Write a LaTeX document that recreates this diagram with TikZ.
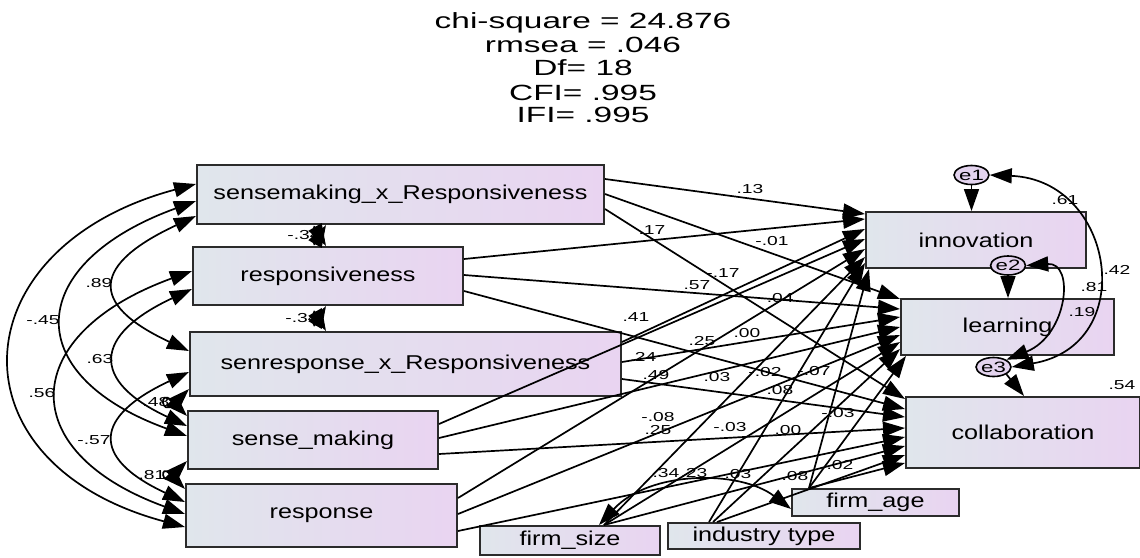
\documentclass[tikz,border=0pt]{standalone}
\usepackage{fontspec}
\setmainfont{Liberation Sans}
\newfontfamily\boxfont{Liberation Sans}[FakeStretch=1.26]
\newfontfamily\numfont{Liberation Sans}[FakeStretch=1.48]
\newfontfamily\headfont{Liberation Sans}[FakeStretch=1.52]
\usetikzlibrary{arrows.meta,calc,shapes.geometric}

\definecolor{boxleft}{HTML}{E0E6EC}
\definecolor{boxright}{HTML}{E9D4F1}
\definecolor{edgegray}{HTML}{2B2B2B}
\definecolor{errfill}{HTML}{E3D3EE}

\tikzset{
  var/.style={draw=edgegray, line width=2pt, left color=boxleft, right color=boxright,
    inner sep=0pt, font=\boxfont\fontsize{20}{24}\selectfont, text=black},
  err/.style={ellipse, draw=black, line width=1.6pt, fill=errfill,
    minimum width=30pt, minimum height=19pt, inner sep=0pt,
    font=\numfont\fontsize{15}{15}\selectfont},
  tip/.tip={Triangle[length=22pt,width=15pt]},
  reg/.style={line width=1.7pt, -tip},
  cov/.style={line width=1.7pt, tip-tip},
  coef/.style={font=\numfont\fontsize{13}{13}\selectfont, inner sep=0pt, text=black},
  head/.style={font=\headfont\fontsize{22}{22}\selectfont, inner sep=0pt, anchor=base, text=black}
}

\begin{document}
\begin{tikzpicture}[x=1pt,y=-1pt]
\useasboundingbox (0,0) rectangle (1140,557);

% fit statistics
\node[head] (fit1) at (583,28) {chi-square = 24.876};
\node[head] (fit2) at (583,52) {rmsea = .046};
\node[head] (fit3) at (583,75) {Df= 18};
\node[head] (fit4) at (583,100) {CFI= .995};
\node[head] (fit5) at (583,122) {IFI= .995};

% exogenous variables
\node[var, minimum width=407pt, minimum height=59pt] (sxr) at (400.5,194.5) {sensemaking\_x\_Responsiveness};
\node[var, minimum width=270pt, minimum height=58pt] (rsp) at (328,276) {responsiveness};
\node[var, minimum width=431pt, minimum height=64pt] (srx) at (405.5,364) {senresponse\_x\_Responsiveness};
\node[var, minimum width=250pt, minimum height=58pt] (smk) at (313,440) {sense\_making};
\node[var, minimum width=271pt, minimum height=63pt] (rsn) at (321.5,515.5) {response};

% control variables
\node[var, minimum width=180pt, minimum height=29pt] (fsz) at (570,540.5) {firm\_size};
\node[var, minimum width=192pt, minimum height=26pt] (ind) at (764,536) {industry type};
\node[var, minimum width=167pt, minimum height=27pt] (fag) at (875.5,502.5) {firm\_age};

% outcomes
\node[var, minimum width=220pt, minimum height=56pt] (inn) at (976,240) {innovation};
\node[var, minimum width=213pt, minimum height=56pt] (lrn) at (1007.5,327) {learning};
\node[var, minimum width=234pt, minimum height=71pt] (col) at (1023,432.5) {collaboration};

% residuals
\node[err] (e1) at (971.5,175) {e1};
\node[err] (e2) at (1008,265.5) {e2};
\node[err] (e3) at (993.5,367) {e3};

% regression paths
\draw[reg] ([yshift=-15pt]sxr.north east) -- ([yshift=-3pt]inn.north west);
\draw[reg] ([yshift=-30pt]sxr.north east) -- ([yshift=-1pt]lrn.north west);
\draw[reg] ([yshift=-45pt]sxr.north east) -- ([yshift=-3pt]col.north west);

\draw[reg] ([yshift=-13pt]rsp.north east) -- ([yshift=-8pt]inn.north west);
\draw[reg] ([yshift=-29pt]rsp.north east) -- ([yshift=-11pt]lrn.north west);
\draw[reg] ([yshift=-45pt]rsp.north east) -- ([yshift=-13pt]col.north west);

\draw[reg] ([yshift=-11pt]srx.north east) -- ([yshift=-18pt]inn.north west);
\draw[reg] ([yshift=-31pt]srx.north east) -- ([yshift=-19pt]lrn.north west);
\draw[reg] ([yshift=-48pt]srx.north east) -- ([yshift=-21pt]col.north west);

\draw[reg] ([yshift=-14pt]smk.north east) -- ([yshift=-28pt]inn.north west);
\draw[reg] ([yshift=-28pt]smk.north east) -- ([yshift=-29pt]lrn.north west);
\draw[reg] ([yshift=-44pt]smk.north east) -- ([yshift=-32pt]col.north west);

\draw[reg] ([yshift=-15pt]rsn.north east) -- ([yshift=-38pt]inn.north west);
\draw[reg] ([yshift=-31pt]rsn.north east) -- ([yshift=-37pt]lrn.north west);
\draw[reg] ([yshift=-48pt]rsn.north east) -- ([yshift=-41pt]col.north west);

\draw[reg] ([xshift=125pt]fsz.north west) -- ([yshift=-46pt]inn.north west);
\draw[reg] ([xshift=125pt]fsz.north west) -- ([yshift=-44pt]lrn.north west);
\draw[reg] ([xshift=125pt]fsz.north west) -- ([yshift=-50pt]col.north west);

\draw[reg] ([xshift=42pt]ind.north west) -- ([yshift=-52pt]inn.north west);
\draw[reg] ([xshift=46pt]ind.north west) -- ([yshift=-51pt]lrn.north west);
\draw[reg] ([xshift=50pt]ind.north west) -- ([yshift=-59pt]col.north west);

\draw[reg] ([xshift=18pt]fag.north west) -- ([xshift=4pt]inn.south west);
\draw[reg] ([xshift=18pt]fag.north west) -- ([xshift=6pt]lrn.south west);
\draw[reg] ([xshift=18pt]fag.north west) -- ([yshift=-67pt]col.north west);

% residual paths
\draw[reg] (e1.south) -- (e1.south |- inn.north);
\draw[reg] (e2.south) -- (e2.south |- lrn.north);
\draw[reg] (e3.south east) -- ([xshift=119pt]col.north west);

% covariances among exogenous variables
\draw[cov] ([yshift=-20pt]sxr.north west) .. controls +(195:246pt) and +(165:246pt) .. ([yshift=-44pt]rsn.north west);
\draw[cov] ([yshift=-37pt]sxr.north west) .. controls +(200:181pt) and +(160:181pt) .. ([yshift=-26pt]smk.north west);
\draw[cov] ([yshift=-25pt]rsp.north west) .. controls +(200:184pt) and +(160:184pt) .. ([yshift=-31pt]rsn.north west);
\draw[cov] ([yshift=-52pt]sxr.north west) .. controls +(205:113pt) and +(155:113pt) .. ([yshift=-20pt]srx.north west);
\draw[cov] ([yshift=-43pt]rsp.north west) .. controls +(205:108pt) and +(155:108pt) .. ([yshift=-16pt]smk.north west);
\draw[cov] ([yshift=-41pt]srx.north west) .. controls +(205:105pt) and +(155:105pt) .. ([yshift=-19pt]rsn.north west);
\draw[cov] ([yshift=-58pt]srx.north west) .. controls +(225:40pt) and +(135:40pt) .. ([yshift=-6pt]smk.north west);
\draw[cov] ([yshift=-51pt]smk.north west) .. controls +(225:36pt) and +(135:36pt) .. ([yshift=-6pt]rsn.north west);
\draw[cov] ([xshift=130pt]sxr.south west) .. controls +(240:27pt) and +(120:27pt) .. ([xshift=134pt]rsp.north west);
\draw[cov] ([xshift=134pt]rsp.south west) .. controls +(240:27pt) and +(120:27pt) .. ([xshift=137pt]srx.north west);

% covariance between control variables
\draw[cov] ([xshift=120pt]fsz.north west) .. controls (650,470) and (740,470) .. ([yshift=-21pt]fag.north west);

% residual covariances
\draw[cov] (e1.east) .. controls (1115,180) and (1140,345) .. (e3.east);
\draw[cov] (e2.east) .. controls (1075,262) and (1068,335) .. (e3.north east);

% coefficients: covariances on the left
\node[coef] (k1) at (99,283) {.89};
\node[coef] (k2) at (43,320) {-.45};
\node[coef] (k3) at (100,359) {.63};
\node[coef] (k4) at (42,393) {.56};
\node[coef] (k5) at (94,440) {-.57};
\node[coef] (k6) at (156,402) {.48};
\node[coef] (k7) at (152,475) {.81};
\node[coef] (k8) at (304,235) {-.34};
\node[coef] (k9) at (302,318) {-.34};

% coefficients: paths
\node[coef] (p1) at (750,189) {.13};
\node[coef] (p2) at (652,230) {.17};
\node[coef] (p3) at (772,241) {-.01};
\node[coef] (p4) at (697,285) {.57};
\node[coef] (p5) at (723,273) {-.17};
\node[coef] (p6) at (777,298) {-.04};
\node[coef] (p7) at (636,317) {.41};
\node[coef] (p8) at (702,341) {.25};
\node[coef] (p9) at (747,333) {.00};
\node[coef] (p10) at (643,357) {.24};
\node[coef] (p11) at (656,375) {.49};
\node[coef] (p12) at (717,377) {.03};
\node[coef] (p13) at (765,372) {-.02};
\node[coef] (p14) at (814,371) {-.07};
\node[coef] (p15) at (780,390) {.08};
\node[coef] (p16) at (838,413) {-.03};
\node[coef] (p17) at (658,417) {-.08};
\node[coef] (p18) at (658,430) {.25};
\node[coef] (p19) at (730,427) {-.03};
\node[coef] (p20) at (788,430) {.00};
\node[coef] (p21) at (840,465) {.02};
\node[coef] (p22) at (666,473) {.34};
\node[coef] (p23) at (694,473) {.23};
\node[coef] (p24) at (738,474) {.03};
\node[coef] (p25) at (795,476) {.08};

% squared multiple correlations and residual covariances
\node[coef] (r1) at (1065,200) {.61};
\node[coef] (r2) at (1117,270) {.42};
\node[coef] (r3) at (1094,287) {.81};
\node[coef] (r4) at (1082,312) {.19};
\node[coef] (r5) at (1122,385) {.54};
\end{tikzpicture}
\end{document}
